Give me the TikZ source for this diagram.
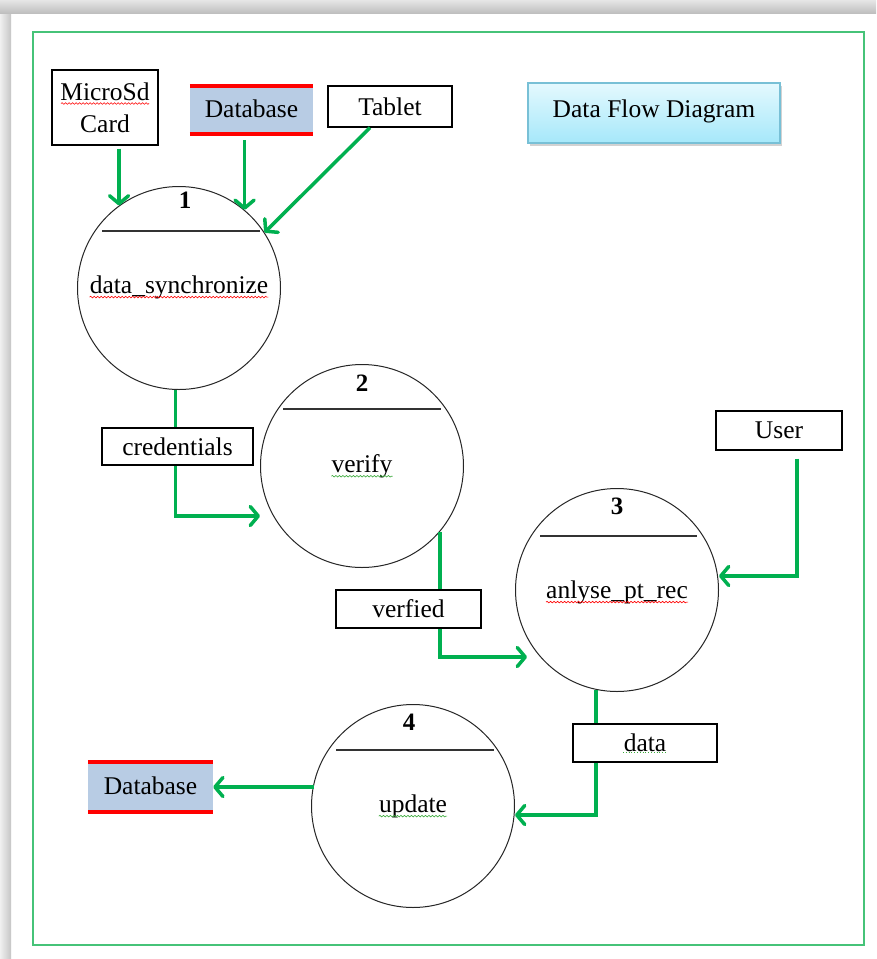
\documentclass[tikz,border=0pt]{standalone}
\usepackage{fontspec}
\setmainfont{Liberation Serif}
\usetikzlibrary{arrows.meta,calc,shadows,decorations.pathmorphing}
\definecolor{dfgreen}{RGB}{0,176,80}
\definecolor{framegreen}{RGB}{70,195,120}
\definecolor{dbblue}{RGB}{184,204,228}
\definecolor{dbred}{RGB}{255,0,0}
\definecolor{titletop}{RGB}{228,249,254}
\definecolor{titlebot}{RGB}{166,232,250}
\definecolor{titleborder}{RGB}{120,192,214}
\definecolor{squiggreen}{RGB}{60,170,60}
\begin{document}
\begin{tikzpicture}[x=1pt,y=-1pt,
  every node/.style={font=\fontsize{25.5}{32}\selectfont},
  ent/.style={draw=black, line width=1.3pt, fill=white, inner sep=0pt, align=center},
  store/.style={fill=dbblue, inner sep=0pt, minimum width=123pt, minimum height=48pt},
  dbline/.style={draw=dbred, line width=4pt},
  proc/.style={draw=black!85, line width=1pt, circle, minimum size=203pt, inner sep=0pt},
  lbl/.style={inner sep=0pt},
  num/.style={font=\fontsize{25}{29}\selectfont\bfseries, inner sep=0pt},
  divider/.style={draw=black!80, line width=1.2pt},
  flow/.style={draw=dfgreen, line width=3.5pt, -{Straight Barb[length=8pt,width=19pt,round]}},
  squig/.style={decorate, decoration={snake, amplitude=0.8pt, segment length=3.5pt}, line width=0.6pt}
]
% page and background
\useasboundingbox (0,0) rectangle (876,959);
\fill[white] (0,0) rectangle (876,959);
\shade[left color=gray!12, right color=gray!45] (0,0) rectangle (11,959);
\shade[top color=gray!20, bottom color=gray!50] (0,0) rectangle (876,13);
\draw[framegreen, line width=1.8pt] (33,32) rectangle (864,945);

% external entities and stores
\node[ent, minimum width=106pt, minimum height=75pt] (mc) at (105,107.5) {MicroSd\\Card};
\node[store] (db1) at (251.5,110) {\raisebox{3pt}{Database}};
\draw[dbline] (db1.north west) -- (db1.north east);
\draw[dbline] (db1.south west) -- (db1.south east);
\node[ent, minimum width=124pt, minimum height=41pt] (tab) at (390,106.5) {Tablet};
\node[draw=titleborder, line width=1.2pt, top color=titletop, bottom color=titlebot,
      minimum width=252pt, minimum height=60pt, inner sep=0pt,
      drop shadow={shadow xshift=2pt, shadow yshift=-3pt, opacity=0.35, fill=gray}]
      (title) at (654,113) {\raisebox{9pt}{Data Flow Diagram}};
\node[ent, minimum width=126pt, minimum height=39pt] (user) at (779,430.5) {User};
\node[store, minimum width=125pt, minimum height=50pt] (db2) at (150.5,787) {\raisebox{3pt}{Database}};
\draw[dbline] (db2.north west) -- (db2.north east);
\draw[dbline] (db2.south west) -- (db2.south east);

% processes
\node[proc] (c1) at (179,288) {};
\node[proc] (c2) at (362,466) {};
\node[proc] (c3) at (617,590) {};
\node[proc] (c4) at (413,806) {};
\draw[divider] ($(c1)+(-77,-57)$) -- ($(c1)+(81,-57)$);
\draw[divider] ($(c2)+(-79,-57)$) -- ($(c2)+(79,-57)$);
\draw[divider] ($(c3)+(-77,-54)$) -- ($(c3)+(80,-54)$);
\draw[divider] ($(c4)+(-77,-56)$) -- ($(c4)+(81,-56)$);
\node[num] (n1) at (185,200) {1};
\node[num] (n2) at (362,383) {2};
\node[num] (n3) at (617,506) {3};
\node[num] (n4) at (409,722) {4};
\node[lbl] (c1t) at (179,287) {data\_synchronize};
\node[lbl] (c2t) at (362,466) {verify};
\node[lbl] (c3t) at (617,592) {anlyse\_pt\_rec};
\node[lbl] (c4t) at (413,806) {update};

% flows
\draw[flow, shorten <=3pt] (mc.south -| c1.126) -- (c1.126);
\draw[flow, shorten <=6pt] (db1.south -| c1.50) -- (c1.50);
\draw[flow] ([xshift=-20pt]tab.south) -- (c1.33);
\draw[flow] (c1.268) |- ($(c2.west)+(0,50)$);
\draw[flow] (c2.-40) |- ($(c3.west)+(12,67)$);
\draw[flow, shorten <=8pt] ([xshift=18pt]user.south) |- ($(c3.east)+(0,-14)$);
\draw[flow] (c3.258) |- ($(c4.east)+(0,9)$);
\draw[flow] ($(c4.west |- db2.east)+(3,0)$) -- (db2.east);

% flow labels
\node[ent, minimum width=151pt, minimum height=37pt] (cred) at (177.5,446.5) {credentials};
\node[ent, minimum width=145pt, minimum height=38pt] (verf) at (408.5,609) {verfied};
\node[ent, minimum width=144pt, minimum height=38pt] (data) at (645,743) {data};

% spell-check squiggles
\draw[squig, red] ($(mc.center)+(-44,-4)$) -- ($(mc.center)+(44,-4)$);
\draw[squig, red] ($(c1t.base west)+(0,4)$) -- ($(c1t.base east)+(0,4)$);
\draw[squig, red] ($(c3t.base west)+(0,4)$) -- ($(c3t.base east)+(0,4)$);
\draw[squig, squiggreen] ($(c2t.base west)+(0,4)$) -- ($(c2t.base east)+(0,4)$);
\draw[squig, squiggreen] ($(c4t.base west)+(0,4)$) -- ($(c4t.base east)+(0,4)$);
\draw[squiggreen, line width=0.8pt, dotted] ($(data.center)+(-22,9)$) -- ($(data.center)+(22,9)$);
\end{tikzpicture}
\end{document}
